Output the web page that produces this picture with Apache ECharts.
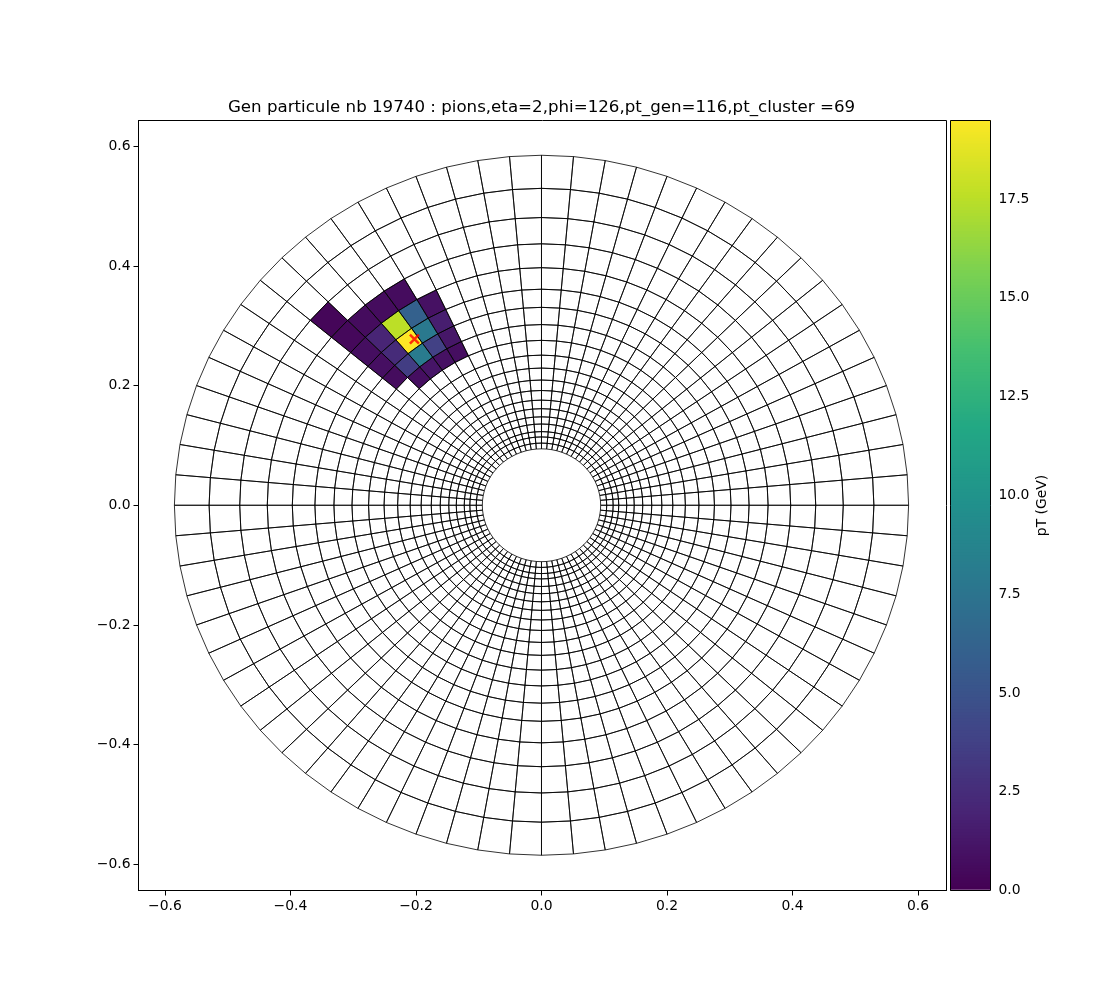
<!DOCTYPE html>
<html><head><meta charset="utf-8">
<style>html,body{margin:0;padding:0;background:#fff}#c{width:1100px;height:1000px}</style>
<script src="https://cdn.jsdelivr.net/npm/echarts@6/dist/echarts.min.js"></script>
</head><body><div id="c"></div>
<script>
const titleText = 'Gen particule nb 19740 : pions,eta=2,phi=126,pt_gen=116,pt_cluster =69';
const colorbarName = 'pT (GeV)';
const xyTicks = [-0.6,-0.4,-0.2,0,0.2,0.4,0.6];
const barTicks = [0,2.5,5,7.5,10,12.5,15,17.5];
const ringRadii = [0.0943,0.1039,0.1142,0.1231,0.1358,0.1478,0.1614,0.1757,0.1918,0.2093,0.2293,0.2509,0.2756,0.3020,0.3308,0.3611,0.3971,0.4370,0.4809,0.5297,0.5850];
const sectorAngles = [0,5,10,15,20,25,30,35,40,45,50,55,60,65,70,75,80,85,90,95,100,105,110,115,120,125,130,135,140,145,150,155,160,165,170,175,180,185,190,195,200,205,210,215,220,225,230,235,240,245,250,255,260,265,270,275,280,285,290,295,300,305,310,315,320,325,330,335,340,345,350,355,360];
const hitRing   = [14,15,14,15,13,13,13,14,15,14,15,13,12,12,12,12,13,14,15,16,17,16,16,16];
const hitAngle  = [125,125,120,120,125,120,130,130,130,115,115,115,115,120,125,130,135,135,135,135,135,130,125,120];
const hitPt     = [19.49,17.5,7.9,6,8,3.7,3.5,2.4,2.0,1.6,0.9,1.2,0.7,0.9,1.1,0.7,0.6,0.8,0.7,0.4,0.3,0.6,0.6,0.6];
const genPoint  = [-0.2025,0.2775];
const ptMax = 19.49;
const viridis = ['#440154','#482475','#414487','#355f8d','#2a788e','#21918c','#22a884','#44bf70','#7ad151','#bddf26','#fde725'];
const font = 'DejaVu Sans';
const deg = Math.PI/180;

const meshRows = [];
for (let r=0;r<ringRadii.length-1;r++) for (let s=0;s<sectorAngles.length-1;s++) meshRows.push([r,s]);
const hitRows = hitRing.map((r,i)=>[r,sectorAngles.indexOf(hitAngle[i]),hitPt[i]]);
const barRows = [];
for (let i=0;i<256;i++) barRows.push([0.5,0.02+i/256*ptMax,0.02+i/256*ptMax]);

function cell(api,r,s){
  const r0=ringRadii[r],r1=ringRadii[r+1],a0=sectorAngles[s]*deg,a1=sectorAngles[s+1]*deg;
  return [[r0,a0],[r1,a0],[r1,a1],[r0,a1]].map(p=>api.coord([p[0]*Math.cos(p[1]),p[0]*Math.sin(p[1])]));
}
function xyAxis(extra,labelPad){
  return Object.assign({type:'value',
    axisLine:{show:true,onZero:false,lineStyle:{color:'#000',width:1}},
    axisTick:{show:true,length:5,lineStyle:{color:'#000',width:1},customValues:xyTicks},
    axisLabel:{show:true,color:'#000',fontFamily:font,fontSize:13.9,margin:8,padding:labelPad,customValues:xyTicks,
      formatter:v=>{const t=Math.abs(v)<1e-9?'0.0':Math.abs(v).toFixed(1);return (v<-1e-9?'\u2212':'')+t;}},
    splitLine:{show:false}},extra);
}
const option = {
  animation:false,
  backgroundColor:'#fff',
  title:{text:titleText,left:536.5,top:94,textAlign:'center',textStyle:{fontFamily:font,fontSize:16.67,fontWeight:'normal',color:'#000'}},
  grid:[
    {left:138.5,top:120.5,width:808,height:770,show:true,borderColor:'#000',borderWidth:1,backgroundColor:'transparent'},
    {left:950.5,top:120.5,width:40,height:770,show:false}
  ],
  xAxis:[
    xyAxis({gridIndex:0,position:'bottom',min:-0.6422,max:0.6454},[1,0,0,0]),
    {type:'value',gridIndex:1,min:0,max:1,axisLine:{show:false},axisTick:{show:false},axisLabel:{show:false},splitLine:{show:false}}
  ],
  yAxis:[
    xyAxis({gridIndex:0,position:'left',min:-0.6439,max:0.6431},[2,0,0,0]),
    {type:'value',gridIndex:1,min:0,max:ptMax,position:'right',
      axisLine:{show:false},splitLine:{show:false},
      axisTick:{show:true,length:5,lineStyle:{color:'#000',width:1},customValues:barTicks},
      axisLabel:{color:'#000',fontFamily:font,fontSize:13.9,margin:8,padding:[2,0,0,0],customValues:barTicks,formatter:v=>v.toFixed(1)},
      name:colorbarName,nameLocation:'middle',nameRotate:90,nameGap:45,
      nameTextStyle:{color:'#000',fontFamily:font,fontSize:13.9}}
  ],
  visualMap:[{type:'continuous',show:false,min:0,max:ptMax,dimension:2,seriesIndex:[0,2],inRange:{color:viridis}}],
  series:[
    {type:'custom',xAxisIndex:0,yAxisIndex:0,coordinateSystem:'cartesian2d',data:hitRows,z:2,silent:true,
      renderItem:(p,api)=>({type:'polygon',shape:{points:cell(api,api.value(0),api.value(1))},
        style:{fill:api.visual('color'),stroke:null}})},
    {type:'custom',xAxisIndex:0,yAxisIndex:0,coordinateSystem:'cartesian2d',data:meshRows,z:3,silent:true,
      renderItem:(p,api)=>({type:'polygon',shape:{points:cell(api,api.value(0),api.value(1))},
        style:{fill:'none',stroke:'#000',lineWidth:0.8}})},
    {type:'custom',xAxisIndex:1,yAxisIndex:1,coordinateSystem:'cartesian2d',data:barRows,z:2,silent:true,
      encode:{x:0,y:1},
      renderItem:(p,api)=>{
        const a=api.coord([0,api.value(1)]),b=api.coord([1,ptMax]);
        return {type:'rect',shape:{x:a[0],y:b[1],width:b[0]-a[0],height:a[1]-b[1]},style:{fill:api.visual('color')}};
      }},
    {type:'custom',xAxisIndex:1,yAxisIndex:1,coordinateSystem:'cartesian2d',data:[[0.5,0]],z:4,silent:true,
      renderItem:(p,api)=>{
        const a=api.coord([0,0]),b=api.coord([1,ptMax]);
        return {type:'rect',shape:{x:a[0],y:b[1],width:b[0]-a[0],height:a[1]-b[1]},style:{fill:'none',stroke:'#000',lineWidth:1}};
      }},
    {type:'scatter',xAxisIndex:0,yAxisIndex:0,data:[genPoint],z:5,silent:true,symbol:'path://M0 0L10 10M10 0L0 10',symbolSize:9,
      itemStyle:{color:'rgba(0,0,0,0)',borderColor:'#f00',borderWidth:2.5}}
  ]
};
echarts.init(document.getElementById('c'),null,{renderer:'canvas'}).setOption(option);
</script></body></html>
